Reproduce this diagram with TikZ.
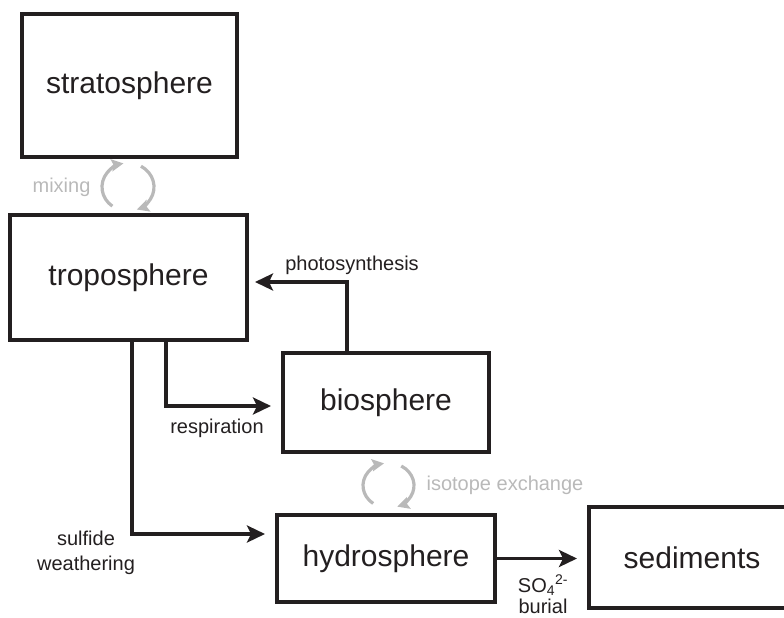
\documentclass[tikz,border=0pt]{standalone}
\usepackage{fontspec}
\setmainfont{Liberation Sans}
\usetikzlibrary{arrows.meta,calc}
\definecolor{lgray}{RGB}{185,185,185}
\definecolor{ink}{RGB}{35,31,32}
\begin{document}
\begin{tikzpicture}[x=1pt,y=-1pt,
  box/.style={draw=ink, text=ink, line width=4pt, inner sep=0pt, font=\fontsize{30}{36}\selectfont},
  lbl/.style={text=ink, font=\fontsize{20}{25}\selectfont, inner sep=0pt},
  glbl/.style={lbl, text=lgray},
  arr/.style={draw=ink, line width=3.5pt, -{Stealth[length=18pt,width=17pt,inset=4pt]}},
  garr/.style={draw=lgray, line width=3.2pt, -{Stealth[length=12pt,width=12pt,inset=2pt]}}]
\useasboundingbox (0,0) rectangle (784,618);

% boxes
\node[box, minimum width=215pt, minimum height=143pt] (strat) at (129.5,85.5) {stratosphere};
\node[box, minimum width=237pt, minimum height=125pt] (tropo) at (128.5,277.5) {troposphere};
\node[box, minimum width=206pt, minimum height=99pt] (bio) at (386,402.5) {biosphere};
\node[box, minimum width=218pt, minimum height=87pt] (hydro) at (386,558.5) {hydrosphere};
\node[box, minimum width=206pt, minimum height=101pt] (sed) at (692,557.5) {sediments};

% black connectors
\draw[arr, shorten >=10pt] ([xshift=37.5pt]tropo.south) |- ([yshift=-3.5pt]bio.west);
\draw[arr, shorten >=10pt] ([xshift=3.5pt]tropo.south) |- ([yshift=24.5pt]hydro.west);
\draw[arr, shorten >=6pt] ([xshift=-39pt]bio.north) |- ([yshift=-4.5pt]tropo.east);
\draw[arr, shorten >=10pt] (hydro.east) -- (hydro.east -| sed.west);

% gray exchange arrows
\coordinate (mixc) at (128,187);
\draw[garr] ($(mixc)+(127:26 and 24)$) arc[start angle=127, end angle=260, x radius=26, y radius=24];
\draw[garr] ($(mixc)+(-60:26 and 24)$) arc[start angle=-60, end angle=70, x radius=26, y radius=24];
\coordinate (isoc) at (388.5,485.5);
\draw[garr] ($(isoc)+(127:25.5 and 22.5)$) arc[start angle=127, end angle=260, x radius=25.5, y radius=22.5];
\draw[garr] ($(isoc)+(-60:25.5 and 22.5)$) arc[start angle=-60, end angle=70, x radius=25.5, y radius=22.5];

% labels
\node[glbl, anchor=base] (mixlbl) at (61.5,192) {mixing};
\node[glbl, anchor=base] (isolbl) at (505,490) {isotope exchange};
\node[lbl, anchor=base] (photo) at (352,270) {photosynthesis};
\node[lbl, anchor=base] (resp) at (217,433) {respiration};
\node[lbl, anchor=base] (sulf1) at (86,545) {sulfide};
\node[lbl, anchor=base] (sulf2) at (86,570) {weathering};
\node[lbl, anchor=base] (so4) at (543,592) {SO\textsubscript{4}\textsuperscript{2-}};
\node[lbl, anchor=base] (burial) at (543,613.5) {burial};
\end{tikzpicture}
\end{document}
